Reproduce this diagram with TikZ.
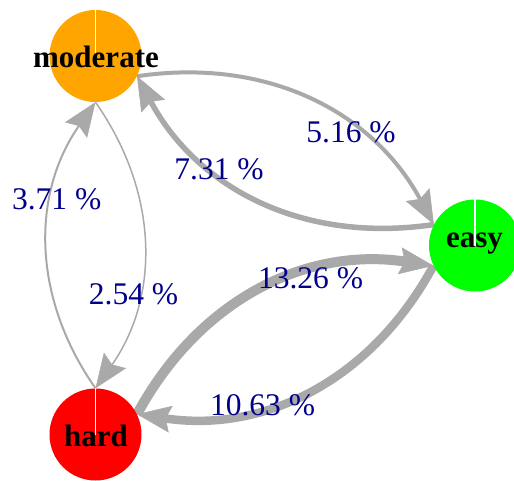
\documentclass[tikz,border=0pt]{standalone}
\usepackage{fontspec}
\setmainfont{Liberation Serif}
\usetikzlibrary{arrows.meta,backgrounds}
\definecolor{edgegray}{HTML}{A9A9A9}
\definecolor{labelblue}{HTML}{00008B}
\definecolor{cmod}{HTML}{FFA500}
\definecolor{ceasy}{HTML}{00FF00}
\definecolor{chard}{HTML}{FF0000}
\begin{document}
\begin{tikzpicture}[x=1pt,y=1pt,
  vert/.style={circle, minimum size=92pt, inner sep=0pt, draw=none},
  vlabel/.style={anchor=base, font=\fontsize{31}{31}\selectfont\bfseries, inner sep=0pt},
  elabel/.style={anchor=base, font=\fontsize{31.5}{31.5}\selectfont, text=labelblue, inner sep=0pt},
  conn/.style={draw=edgegray, -{Stealth[length=34pt,width=27pt,inset=5pt,line width=0.5pt]}},
  slice/.style={draw=white, line width=1.2pt}
]
\useasboundingbox (0,0) rectangle (514,480);
\node[vert, fill=cmod] (moderate) at (95.5,424) {};
\node[vert, fill=ceasy] (easy) at (475,234.5) {};
\node[vert, fill=chard] (hard) at (95.5,45.5) {};
\draw[slice] (moderate.center) -- (moderate.north);
\draw[slice] (easy.center) -- (easy.north);
\draw[slice] (hard.center) -- (hard.north);
\begin{scope}[on background layer]
\draw[conn, line width=4pt] (moderate.-26.5) to[bend left=35] (easy.153.5);
\draw[conn, line width=5.5pt] (easy.153.5) to[bend left=35] (moderate.-26.5);
\draw[conn, line width=10pt] (hard.26.5) to[bend left=35] (easy.206.5);
\draw[conn, line width=8.5pt] (easy.206.5) to[bend left=35] (hard.26.5);
\draw[conn, line width=2pt] (hard.north) to[bend left=35] (moderate.south);
\draw[conn, line width=1.5pt] (moderate.south) to[bend left=35] (hard.north);
\end{scope}
\node[vlabel] (tm) at (96,412.7) {moderate};
\node[vlabel] (te) at (474.5,232.7) {easy};
\node[vlabel] (th) at (96,33.3) {hard};
\node[elabel] (l1) at (351,337) {5.16 \%};
\node[elabel] (l2) at (219,300) {7.31 \%};
\node[elabel] (l3) at (310.5,192) {13.26 \%};
\node[elabel] (l4) at (262.5,65) {10.63 \%};
\node[elabel] (l5) at (56.7,270) {3.71 \%};
\node[elabel] (l6) at (133.5,176) {2.54 \%};
\end{tikzpicture}
\end{document}
